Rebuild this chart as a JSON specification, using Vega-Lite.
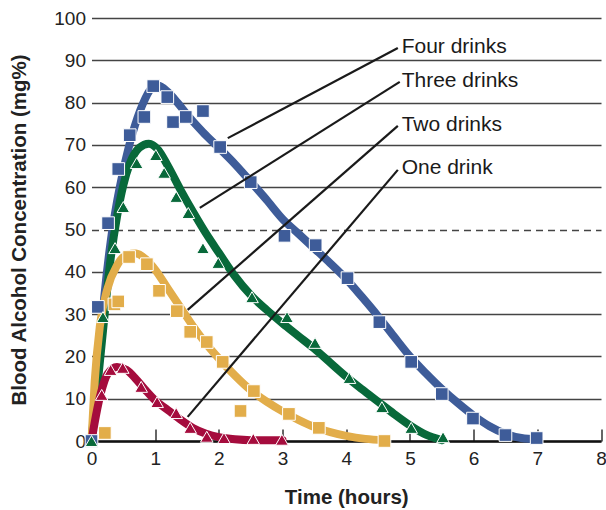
{
  "$schema": "https://vega.github.io/schema/vega-lite/v6.json",
  "width": 509.5,
  "height": 423,
  "autosize": {"type": "none"},
  "padding": {"left": 91.5, "top": 18, "right": 5, "bottom": 69},
  "background": "white",
  "config": {
    "font": "Liberation Sans",
    "view": {"stroke": null}
  },
  "datasets": {
    "curves": [
      {"series": "Four drinks", "t": 0, "c": 0}, {"series": "Four drinks", "t": 0.1, "c": 17}, {"series": "Four drinks", "t": 0.2, "c": 34}, {"series": "Four drinks", "t": 0.3, "c": 47}, {"series": "Four drinks", "t": 0.4, "c": 56.5}, {"series": "Four drinks", "t": 0.5, "c": 64}, {"series": "Four drinks", "t": 0.65, "c": 73}, {"series": "Four drinks", "t": 0.8, "c": 79.5}, {"series": "Four drinks", "t": 0.95, "c": 83.5}, {"series": "Four drinks", "t": 1.05, "c": 84}, {"series": "Four drinks", "t": 1.2, "c": 82.5}, {"series": "Four drinks", "t": 1.35, "c": 80}, {"series": "Four drinks", "t": 1.5, "c": 77.2}, {"series": "Four drinks", "t": 1.75, "c": 73}, {"series": "Four drinks", "t": 2, "c": 69.3}, {"series": "Four drinks", "t": 2.25, "c": 65.5}, {"series": "Four drinks", "t": 2.5, "c": 61.3}, {"series": "Four drinks", "t": 2.75, "c": 57}, {"series": "Four drinks", "t": 3, "c": 52.5}, {"series": "Four drinks", "t": 3.25, "c": 49}, {"series": "Four drinks", "t": 3.5, "c": 45.5}, {"series": "Four drinks", "t": 3.75, "c": 42}, {"series": "Four drinks", "t": 4, "c": 38.3}, {"series": "Four drinks", "t": 4.25, "c": 34}, {"series": "Four drinks", "t": 4.5, "c": 29.5}, {"series": "Four drinks", "t": 4.75, "c": 24.7}, {"series": "Four drinks", "t": 5, "c": 20}, {"series": "Four drinks", "t": 5.25, "c": 16}, {"series": "Four drinks", "t": 5.5, "c": 12.3}, {"series": "Four drinks", "t": 5.75, "c": 9}, {"series": "Four drinks", "t": 6, "c": 6}, {"series": "Four drinks", "t": 6.25, "c": 3.5}, {"series": "Four drinks", "t": 6.5, "c": 1.7}, {"series": "Four drinks", "t": 6.75, "c": 0.7}, {"series": "Four drinks", "t": 7, "c": 0.4},
      {"series": "Three drinks", "t": 0, "c": 0}, {"series": "Three drinks", "t": 0.1, "c": 14}, {"series": "Three drinks", "t": 0.2, "c": 29}, {"series": "Three drinks", "t": 0.3, "c": 43}, {"series": "Three drinks", "t": 0.4, "c": 53}, {"series": "Three drinks", "t": 0.5, "c": 60.5}, {"series": "Three drinks", "t": 0.6, "c": 65.5}, {"series": "Three drinks", "t": 0.75, "c": 69.3}, {"series": "Three drinks", "t": 0.9, "c": 70.3}, {"series": "Three drinks", "t": 1.05, "c": 68.8}, {"series": "Three drinks", "t": 1.2, "c": 65}, {"series": "Three drinks", "t": 1.4, "c": 59.3}, {"series": "Three drinks", "t": 1.6, "c": 54}, {"series": "Three drinks", "t": 1.8, "c": 49}, {"series": "Three drinks", "t": 2, "c": 44.5}, {"series": "Three drinks", "t": 2.25, "c": 39}, {"series": "Three drinks", "t": 2.5, "c": 34.5}, {"series": "Three drinks", "t": 2.75, "c": 31}, {"series": "Three drinks", "t": 3, "c": 27.8}, {"series": "Three drinks", "t": 3.25, "c": 24.8}, {"series": "Three drinks", "t": 3.5, "c": 21.8}, {"series": "Three drinks", "t": 3.75, "c": 18.5}, {"series": "Three drinks", "t": 4, "c": 15.2}, {"series": "Three drinks", "t": 4.25, "c": 12.2}, {"series": "Three drinks", "t": 4.5, "c": 9.3}, {"series": "Three drinks", "t": 4.75, "c": 6.4}, {"series": "Three drinks", "t": 5, "c": 3.7}, {"series": "Three drinks", "t": 5.25, "c": 1.5}, {"series": "Three drinks", "t": 5.5, "c": 0.2},
      {"series": "Two drinks", "t": 0, "c": 0}, {"series": "Two drinks", "t": 0.05, "c": 14}, {"series": "Two drinks", "t": 0.13, "c": 27}, {"series": "Two drinks", "t": 0.25, "c": 36}, {"series": "Two drinks", "t": 0.4, "c": 41.5}, {"series": "Two drinks", "t": 0.55, "c": 44}, {"series": "Two drinks", "t": 0.7, "c": 44.3}, {"series": "Two drinks", "t": 0.85, "c": 43}, {"series": "Two drinks", "t": 1, "c": 40.5}, {"series": "Two drinks", "t": 1.2, "c": 36}, {"series": "Two drinks", "t": 1.4, "c": 31.5}, {"series": "Two drinks", "t": 1.6, "c": 27}, {"series": "Two drinks", "t": 1.8, "c": 23}, {"series": "Two drinks", "t": 2, "c": 19.5}, {"series": "Two drinks", "t": 2.25, "c": 15.5}, {"series": "Two drinks", "t": 2.5, "c": 12}, {"series": "Two drinks", "t": 2.75, "c": 9.3}, {"series": "Two drinks", "t": 3, "c": 7}, {"series": "Two drinks", "t": 3.25, "c": 5}, {"series": "Two drinks", "t": 3.5, "c": 3.3}, {"series": "Two drinks", "t": 3.75, "c": 2.1}, {"series": "Two drinks", "t": 4, "c": 1.2}, {"series": "Two drinks", "t": 4.3, "c": 0.5}, {"series": "Two drinks", "t": 4.6, "c": 0.2},
      {"series": "One drink", "t": 0, "c": 0}, {"series": "One drink", "t": 0.07, "c": 6}, {"series": "One drink", "t": 0.15, "c": 11.5}, {"series": "One drink", "t": 0.25, "c": 15.8}, {"series": "One drink", "t": 0.4, "c": 17.5}, {"series": "One drink", "t": 0.55, "c": 16.8}, {"series": "One drink", "t": 0.7, "c": 14.6}, {"series": "One drink", "t": 0.85, "c": 12}, {"series": "One drink", "t": 1, "c": 9.6}, {"series": "One drink", "t": 1.2, "c": 7.3}, {"series": "One drink", "t": 1.4, "c": 5}, {"series": "One drink", "t": 1.6, "c": 3}, {"series": "One drink", "t": 1.8, "c": 1.7}, {"series": "One drink", "t": 2, "c": 0.9}, {"series": "One drink", "t": 2.25, "c": 0.4}, {"series": "One drink", "t": 2.5, "c": 0.2}, {"series": "One drink", "t": 3, "c": 0.2}
    ],
    "points": [
      {"series": "Four drinks", "t": 0, "c": 0}, {"series": "Four drinks", "t": 0.1, "c": 31.7}, {"series": "Four drinks", "t": 0.26, "c": 51.5}, {"series": "Four drinks", "t": 0.42, "c": 64.3}, {"series": "Four drinks", "t": 0.6, "c": 72.3}, {"series": "Four drinks", "t": 0.83, "c": 76.6}, {"series": "Four drinks", "t": 0.97, "c": 83.9}, {"series": "Four drinks", "t": 1.19, "c": 81.3}, {"series": "Four drinks", "t": 1.28, "c": 75.4}, {"series": "Four drinks", "t": 1.48, "c": 76.6}, {"series": "Four drinks", "t": 1.75, "c": 78}, {"series": "Four drinks", "t": 2.02, "c": 69.5}, {"series": "Four drinks", "t": 2.5, "c": 61.2}, {"series": "Four drinks", "t": 3.03, "c": 48.5}, {"series": "Four drinks", "t": 3.52, "c": 46.3}, {"series": "Four drinks", "t": 4.02, "c": 38.5}, {"series": "Four drinks", "t": 4.52, "c": 28.1}, {"series": "Four drinks", "t": 5.02, "c": 18.7}, {"series": "Four drinks", "t": 5.5, "c": 11.1}, {"series": "Four drinks", "t": 5.99, "c": 5.3}, {"series": "Four drinks", "t": 6.5, "c": 1.4}, {"series": "Four drinks", "t": 6.99, "c": 0.7},
      {"series": "Three drinks", "t": 0, "c": 0}, {"series": "Three drinks", "t": 0.18, "c": 29.3}, {"series": "Three drinks", "t": 0.37, "c": 45.6}, {"series": "Three drinks", "t": 0.5, "c": 55.3}, {"series": "Three drinks", "t": 0.71, "c": 65.7}, {"series": "Three drinks", "t": 1.01, "c": 67.6}, {"series": "Three drinks", "t": 1.14, "c": 63.4}, {"series": "Three drinks", "t": 1.33, "c": 57.7}, {"series": "Three drinks", "t": 1.52, "c": 53.9}, {"series": "Three drinks", "t": 1.75, "c": 45.6}, {"series": "Three drinks", "t": 1.99, "c": 42.1}, {"series": "Three drinks", "t": 2.52, "c": 34}, {"series": "Three drinks", "t": 3.07, "c": 29.3}, {"series": "Three drinks", "t": 3.51, "c": 23.2}, {"series": "Three drinks", "t": 4.05, "c": 14.9}, {"series": "Three drinks", "t": 4.56, "c": 8}, {"series": "Three drinks", "t": 5.02, "c": 3.1}, {"series": "Three drinks", "t": 5.52, "c": 0.9},
      {"series": "Two drinks", "t": 0.21, "c": 1.9}, {"series": "Two drinks", "t": 0.36, "c": 32.3}, {"series": "Two drinks", "t": 0.42, "c": 33}, {"series": "Two drinks", "t": 0.59, "c": 43.5}, {"series": "Two drinks", "t": 0.87, "c": 41.8}, {"series": "Two drinks", "t": 1.06, "c": 35.5}, {"series": "Two drinks", "t": 1.34, "c": 30.7}, {"series": "Two drinks", "t": 1.55, "c": 25.8}, {"series": "Two drinks", "t": 1.81, "c": 23.4}, {"series": "Two drinks", "t": 2.06, "c": 18.7}, {"series": "Two drinks", "t": 2.34, "c": 7.1}, {"series": "Two drinks", "t": 2.55, "c": 11.8}, {"series": "Two drinks", "t": 3.1, "c": 6.4}, {"series": "Two drinks", "t": 3.57, "c": 3.1}, {"series": "Two drinks", "t": 4.6, "c": 0},
      {"series": "One drink", "t": 0.16, "c": 10.9}, {"series": "One drink", "t": 0.3, "c": 16.8}, {"series": "One drink", "t": 0.49, "c": 17.3}, {"series": "One drink", "t": 0.78, "c": 12.8}, {"series": "One drink", "t": 1.03, "c": 9.2}, {"series": "One drink", "t": 1.33, "c": 6.6}, {"series": "One drink", "t": 1.55, "c": 3.1}, {"series": "One drink", "t": 1.81, "c": 1}, {"series": "One drink", "t": 2.08, "c": 0.7}, {"series": "One drink", "t": 2.54, "c": 0.5}, {"series": "One drink", "t": 2.99, "c": 0.3}
    ],
    "labels": [
      {"label": "Four drinks", "t": 2.14, "c": 71.6, "t2": 4.81, "c2": 92.9, "tt": 4.87, "ct": 91.7},
      {"label": "Three drinks", "t": 1.70, "c": 55.1, "t2": 4.84, "c2": 84.9, "tt": 4.87, "ct": 83.7},
      {"label": "Two drinks", "t": 1.51, "c": 31.0, "t2": 4.81, "c2": 74.5, "tt": 4.87, "ct": 73.3},
      {"label": "One drink", "t": 1.51, "c": 5.7, "t2": 4.81, "c2": 64.1, "tt": 4.87, "ct": 63.1}
    ]
  },
  "layer": [
    {
      "data": {"name": "curves"},
      "mark": {"type": "line", "strokeWidth": 8, "interpolate": "monotone", "strokeCap": "round", "strokeJoin": "round"},
      "encoding": {
        "x": {
          "field": "t", "type": "quantitative",
          "scale": {"domain": [0, 8], "nice": false, "zero": false},
          "axis": {
            "values": [0, 1, 2, 3, 4, 5, 6, 7, 8],
            "format": "d",
            "grid": false,
            "domainColor": "#111111", "domainWidth": 2.5,
            "tickColor": "#333333", "tickWidth": 1.5, "tickSize": -12,
            "labelFontSize": 19, "labelColor": "#222222", "labelPadding": 20,
            "labelFlush": false,
            "title": "Time (hours)", "titleFontSize": 20.5, "titleFontWeight": "bold", "titleColor": "#222222", "titlePadding": 19
          }
        },
        "y": {
          "field": "c", "type": "quantitative",
          "scale": {"domain": [0, 100], "nice": false},
          "axis": {
            "values": [0, 10, 20, 30, 40, 50, 60, 70, 80, 90, 100],
            "grid": true, "gridColor": "#444444", "gridWidth": 1.3,
            "gridDash": {"condition": {"test": "datum.value === 50", "value": [7, 5]}, "value": []},
            "domain": false, "ticks": false,
            "labelFontSize": 19, "labelColor": "#222222", "labelPadding": 6,
            "title": "Blood Alcohol Concentration (mg%)", "titleFontSize": 20.5, "titleFontWeight": "bold", "titleColor": "#222222", "titlePadding": 24
          }
        },
        "color": {
          "field": "series", "type": "nominal",
          "scale": {"domain": ["Four drinks", "Three drinks", "Two drinks", "One drink"], "range": ["#3e5c99", "#08693a", "#e2ad4a", "#a50c3d"]},
          "legend": null
        },
        "detail": {"field": "series"}
      }
    },
    {
      "data": {"name": "points"},
      "mark": {"type": "point", "filled": true, "stroke": "white", "strokeWidth": 1, "opacity": 1},
      "encoding": {
        "x": {"field": "t", "type": "quantitative"},
        "y": {"field": "c", "type": "quantitative"},
        "color": {"field": "series", "type": "nominal", "legend": null},
        "shape": {
          "field": "series", "type": "nominal",
          "scale": {"domain": ["Four drinks", "Three drinks", "Two drinks", "One drink"], "range": ["square", "triangle-up", "square", "triangle-up"]},
          "legend": null
        },
        "size": {"value": 160}
      }
    },
    {
      "data": {"name": "labels"},
      "mark": {"type": "rule", "color": "#1a1a1a", "strokeWidth": 2.2},
      "encoding": {
        "x": {"field": "t", "type": "quantitative"},
        "y": {"field": "c", "type": "quantitative"},
        "x2": {"field": "t2"},
        "y2": {"field": "c2"}
      }
    },
    {
      "data": {"name": "labels"},
      "mark": {"type": "text", "align": "left", "baseline": "alphabetic", "fontSize": 21, "color": "#1a1a1a"},
      "encoding": {
        "x": {"field": "tt", "type": "quantitative"},
        "y": {"field": "ct", "type": "quantitative"},
        "text": {"field": "label"}
      }
    }
  ]
}
